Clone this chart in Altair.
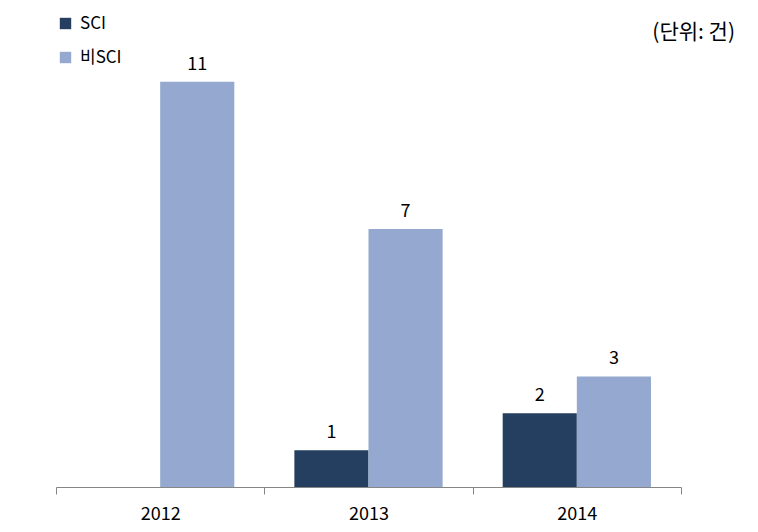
import altair as alt
import pandas as pd

years = ["2012", "2013", "2014"]
series = ["SCI", "비SCI"]
sci = [0, 1, 2]
non_sci = [11, 7, 3]
colors = ["#243F60", "#95A9D0"]

rows = []
for i, y in enumerate(years):
    rows.append({"year": y, "type": series[0], "value": sci[i], "order": 0})
    rows.append({"year": y, "type": series[1], "value": non_sci[i], "order": 1})
df = pd.DataFrame(rows)

FONT = "Noto Sans CJK KR"
FS = 18

x = alt.X("year:N", sort=years, title=None,
          scale=alt.Scale(paddingInner=0, paddingOuter=0),
          axis=alt.Axis(labelAngle=0, tickBand="extent", tickSize=7,
                        domainColor="#868686", tickColor="#868686",
                        labelFontSize=FS, labelColor="#000000", labelFont=FONT,
                        labelPadding=11, grid=False))
y = alt.Y("value:Q", scale=alt.Scale(domain=[0, 13]), axis=None)
xoff = alt.XOffset("type:N", sort=series,
                   scale=alt.Scale(paddingInner=0, paddingOuter=0.405))

bars = alt.Chart(df).mark_bar().encode(
    x=x, y=y, xOffset=xoff,
    color=alt.Color("type:N", sort=series,
                    scale=alt.Scale(domain=series, range=colors),
                    legend=alt.Legend(orient="none", legendX=1, legendY=7,
                                      direction="vertical", title=None,
                                      symbolType="square", symbolSize=130,
                                      symbolStrokeWidth=0, symbolOpacity=1,
                                      labelFontSize=FS - 1, labelFont=FONT,
                                      labelColor="#000000", rowPadding=16,
                                      labelOffset=6, padding=0)),
)

labels = alt.Chart(df).transform_filter("datum.value > 0").mark_text(
    baseline="alphabetic", dy=-12, fontSize=FS, font=FONT, color="#000000"
).encode(x=x, y=y, xOffset=xoff, text="value:Q")

unit = alt.Chart(pd.DataFrame({"t": ["(단위: 건)"]})).mark_text(
    align="right", baseline="middle", fontSize=21, font=FONT, color="#000000"
).encode(x=alt.value(679), y=alt.value(25), text="t:N")

chart = alt.layer(bars, labels, unit).properties(
    width=625, height=479,
    padding={"left": 47, "top": 0, "right": 5, "bottom": 5},
).configure_view(stroke=None)

chart.save("out.html", embed_options={"renderer": "svg", "actions": False})
